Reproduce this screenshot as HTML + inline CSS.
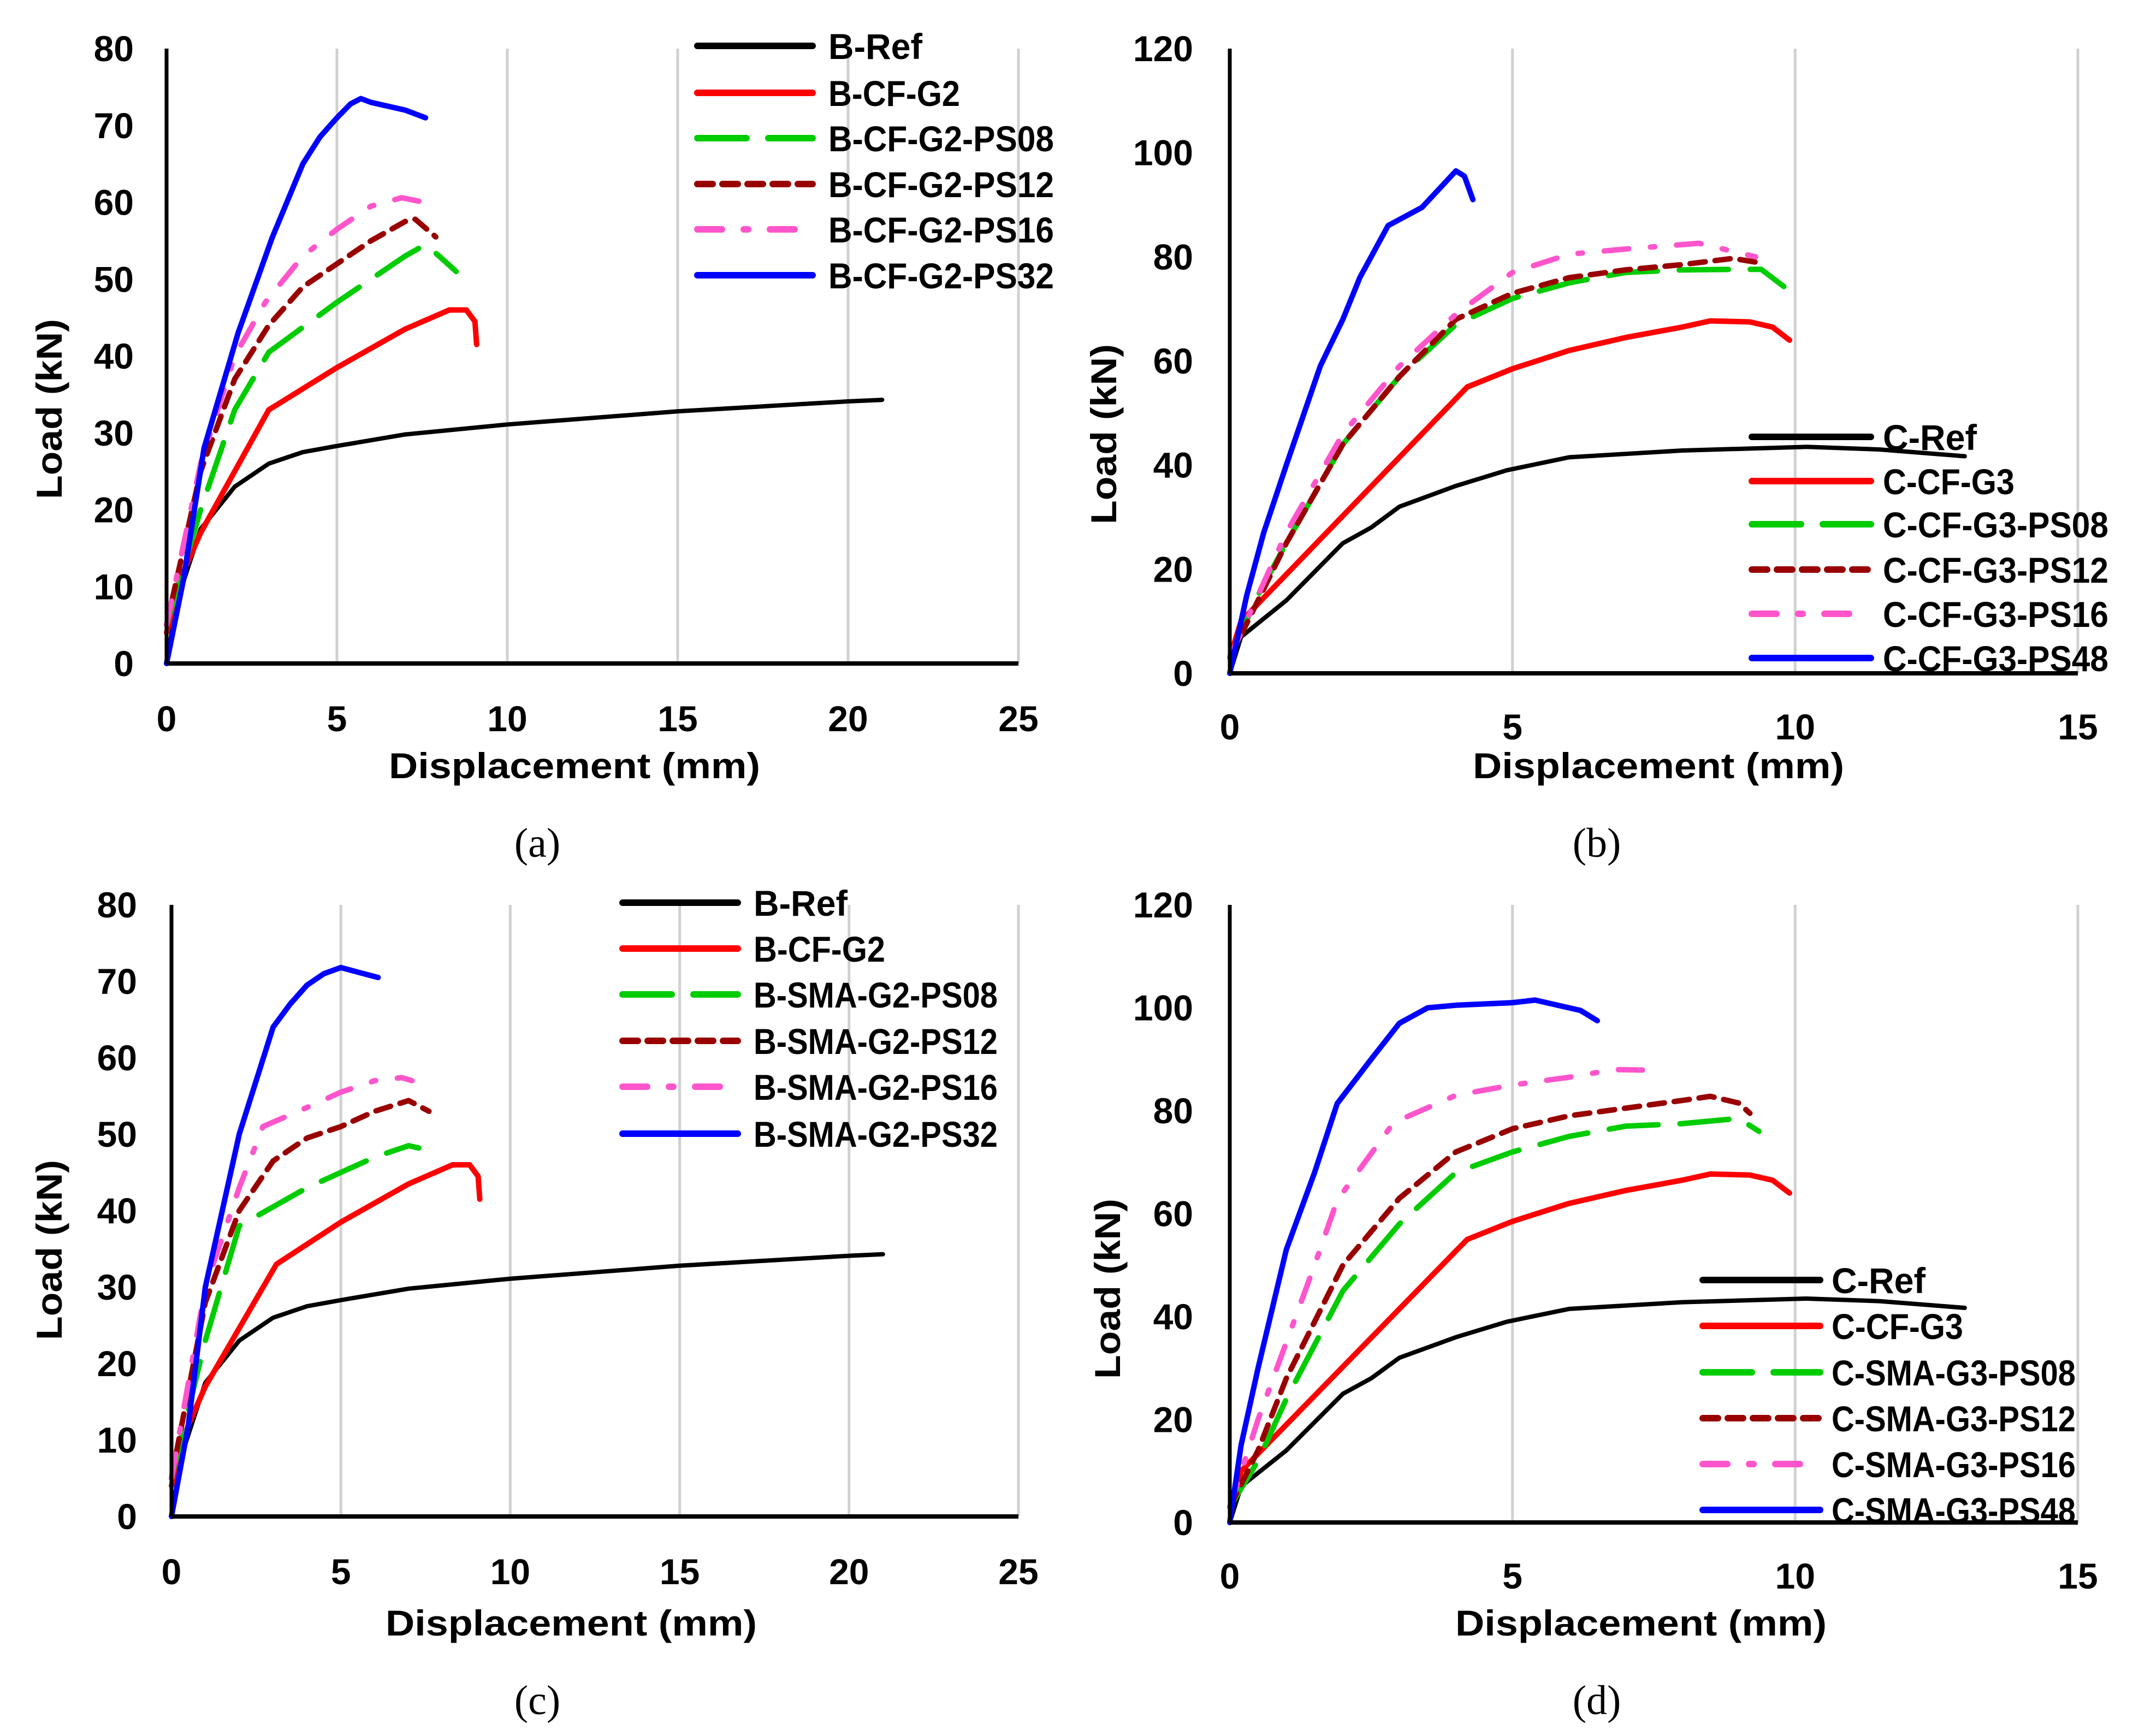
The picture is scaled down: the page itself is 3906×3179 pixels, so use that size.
<!DOCTYPE html>
<html><head><meta charset="utf-8"><style>
html,body{margin:0;padding:0;background:#fff;}
svg{display:block;}
text{font-family:"Liberation Sans",sans-serif;font-weight:bold;fill:#000;}
.cap{font-family:"Liberation Serif",serif;font-weight:normal;}
</style></head><body>
<svg id="fig" width="3906" height="3179" viewBox="0 0 3906 3179" xmlns="http://www.w3.org/2000/svg"></svg>
<script>
// ---------- data (displacement mm, load kN) ----------
// Panel a
const a_ref_x=[0,0.3,1,2,3,4,5,7,10,15,20,21];
const a_ref_y=[0,8,17.5,23,26,27.5,28.3,29.8,31.1,32.8,34.1,34.3];
const a_cf_x=[0,0.5,1,3,5,7,8.3,8.8,9.05,9.1];
const a_cf_y=[4,12,17,33,38.5,43.5,46,46,44.5,41.5];
const a_p08_x=[0,1,2,3,5,7,7.6,8,8.5];
const a_p08_y=[5,20,33,40.5,47,53,54.5,53,51];
const a_p12_x=[0,1,2,3,4,5,6,7,7.3,7.9];
const a_p12_y=[5,25,37,44,49,52,55,57.5,57.8,55.5];
const a_p16_x=[0,1,2,2.9,4,5,6,6.9,7.9];
const a_p16_y=[5,26,40,47,53,56.5,59.5,60.6,59.7];
const a_p32_x=[0,0.5,1.1,2.1,3.1,4,4.5,5,5.4,5.7,6,7,7.6];
const a_p32_y=[0,11,28,43,55.4,65,68.5,71,72.8,73.5,73,72,71];
// Panel b
const b_ref_x=[0,0.2,1,2,2.5,3,4,4.9,6,8,10.2,11.5,13];
const b_ref_y=[0,7,14,25,28,32,36,39,41.5,42.8,43.5,43,41.7];
const b_cf_x=[0,0.2,4.2,5,6,7,8,8.5,9.2,9.6,9.9];
const b_cf_y=[3,10,55,58.5,62,64.5,66.5,67.7,67.5,66.5,64];
const b_p08_x=[0,0.5,1,2,3,4,5,6,7,8,9,9.4,9.8];
const b_p08_y=[3,15,25,44,57,67,72,75,77,77.5,77.6,77.6,74.3];
const b_p12_x=[0,0.5,1,2,3,4,5,6,7,8,8.9,9.3];
const b_p12_y=[3,14,25,44,57,68,73,76,77.5,78.5,79.7,79];
const b_p16_x=[0,1,2,3,4,5,6,7,8.3,9.3];
const b_p16_y=[3,27,46,59,69,77,80.5,81.5,82.6,80];
const b_p48_x=[0,0.3,0.6,1,1.6,2,2.3,2.8,3.4,3.7,4,4.15,4.3];
const b_p48_y=[0,15,27,40,59,68,76,86,89.5,93,96.5,95.5,91];
// Panel c
const c_ref_x=[0,0.3,1,2,3,4,5,7,10,15,20,21];
const c_ref_y=[0,8,17.5,23,26,27.5,28.3,29.8,31.1,32.8,34.1,34.3];
const c_cf_x=[0,0.5,1,3.1,5,7,8.3,8.8,9.05,9.1];
const c_cf_y=[4,12,17,33,38.5,43.5,46,46,44.5,41.5];
const c_p08_x=[0,1,2,3.2,4,5,6,7,7.3];
const c_p08_y=[5,23,38,41,43,45,47,48.5,48.2];
const c_p12_x=[0,1,2,3,4,5,6,7,7.6];
const c_p12_y=[5,28,40,46.5,49.5,51,53,54.4,53];
const c_p16_x=[0,1,2,2.7,4,5,6,6.8,7.1];
const c_p16_y=[5,30,43,51,53.5,55.5,57,57.4,57];
const c_p32_x=[0,0.5,1,2,3,3.5,4,4.5,5,5.5,6.1];
const c_p32_y=[0,12,30,50,64,67,69.5,71,71.8,71.2,70.5];
// Panel d
const d_ref_x=[0,0.2,1,2,2.5,3,4,4.9,6,8,10.2,11.5,13];
const d_ref_y=[0,7,14,25,28,32,36,39,41.5,42.8,43.5,43,41.7];
const d_cf_x=[0,0.2,4.2,5,6,7,8,8.5,9.2,9.6,9.9];
const d_cf_y=[3,10,55,58.5,62,64.5,66.5,67.7,67.5,66.5,64];
const d_p08_x=[0,0.5,1,2,3,4,5,6,7,8,9,9.36];
const d_p08_y=[3,12,24,45,58,68,72,75,77,77.5,78.5,76];
const d_p12_x=[0,0.5,1,2,3,4,5,6,7,8,8.5,9,9.2];
const d_p12_y=[3,14,28,50,63,72,76.5,79,80.5,82,82.8,81.5,79.5];
const d_p16_x=[0,0.5,1,1.5,1.9,2.9,4,5,6,6.8,7.3];
const d_p16_y=[3,20,35,50,62.6,77.7,83,85,86.5,88,87.9];
const d_p48_x=[0,0.2,0.5,1,1.5,1.9,2.5,3,3.5,4,5,5.4,6.2,6.5];
const d_p48_y=[0,15,30,53,68,81.4,90,97,100,100.5,101,101.5,99.5,97.5];

// tick labels
const xTicksB=[0,5,10,15,20,25];
const yTicksB=[0,10,20,30,40,50,60,70,80];
const xTicksC=[0,5,10,15];
const yTicksC=[0,20,40,60,80,100,120];

const legA=["B-Ref","B-CF-G2","B-CF-G2-PS08","B-CF-G2-PS12","B-CF-G2-PS16","B-CF-G2-PS32"];
const legB=["C-Ref","C-CF-G3","C-CF-G3-PS08","C-CF-G3-PS12","C-CF-G3-PS16","C-CF-G3-PS48"];
const legC=["B-Ref","B-CF-G2","B-SMA-G2-PS08","B-SMA-G2-PS12","B-SMA-G2-PS16","B-SMA-G2-PS32"];
const legD=["C-Ref","C-CF-G3","C-SMA-G3-PS08","C-SMA-G3-PS12","C-SMA-G3-PS16","C-SMA-G3-PS48"];

const styles=[
 {c:"#000000",d:""},
 {c:"#ff0000",d:""},
 {c:"#00cc00",d:"90 40"},
 {c:"#990000",d:"28 18"},
 {c:"#ff55cc",d:"45 40 8 40"},
 {c:"#0000ff",d:""}
];
const NS="http://www.w3.org/2000/svg";
const svg=document.getElementById('fig');
function mk(tag,attrs,parent){const e=document.createElementNS(NS,tag);for(const k in attrs)e.setAttribute(k,attrs[k]);(parent||svg).appendChild(e);return e;}

const panels=[
 {id:"a",x0:305,x1:1865,xmax:25,y0:1215,y1:89,ymax:80,xt:xTicksB,yt:yTicksB,leg:legA,
  series:[[a_ref_x,a_ref_y],[a_cf_x,a_cf_y],[a_p08_x,a_p08_y],[a_p12_x,a_p12_y],[a_p16_x,a_p16_y],[a_p32_x,a_p32_y]],
  lx1:1277,lx2:1488,tx:1517,ly:[84,170,253,337,420,504],ylx:245,xly:1316,titx:1052,tity:1402,ylabx:90,ylaby:749,capx:984,capy:1544,cap:"a"},
 {id:"b",x0:2252,x1:3805,xmax:15,y0:1233,y1:89,ymax:120,xt:xTicksC,yt:yTicksC,leg:legB,
  series:[[b_ref_x,b_ref_y],[b_cf_x,b_cf_y],[b_p08_x,b_p08_y],[b_p12_x,b_p12_y],[b_p16_x,b_p16_y],[b_p48_x,b_p48_y]],
  lx1:3208,lx2:3426,tx:3448,ly:[800,881,960,1043,1124,1205],ylx:2185,xly:1331,titx:3037,tity:1402,ylabx:2021,ylaby:795,capx:2924,capy:1544,cap:"b"},
 {id:"c",x0:314,x1:1865,xmax:25,y0:2777,y1:1657,ymax:80,xt:xTicksB,yt:yTicksB,leg:legC,
  series:[[c_ref_x,c_ref_y],[c_cf_x,c_cf_y],[c_p08_x,c_p08_y],[c_p12_x,c_p12_y],[c_p16_x,c_p16_y],[c_p32_x,c_p32_y]],
  lx1:1140,lx2:1351,tx:1380,ly:[1653,1737,1821,1906,1990,2076],ylx:251,xly:2878,titx:1046,tity:2972,ylabx:90,ylaby:2289,capx:984,capy:3114,cap:"c"},
 {id:"d",x0:2252,x1:3805,xmax:15,y0:2788,y1:1657,ymax:120,xt:xTicksC,yt:yTicksC,leg:legD,
  series:[[d_ref_x,d_ref_y],[d_cf_x,d_cf_y],[d_p08_x,d_p08_y],[d_p12_x,d_p12_y],[d_p16_x,d_p16_y],[d_p48_x,d_p48_y]],
  lx1:3118,lx2:3333,tx:3354,ly:[2344,2428,2513,2597,2681,2765],ylx:2185,xly:2886,titx:3005,tity:2972,ylabx:2028,ylaby:2360,capx:2924,capy:3114,cap:"d"}
];

panels.forEach(p=>{
  const g=mk('g',{});
  
  
  const sx=v=>p.x0+(v/p.xmax)*(p.x1-p.x0);
  const sy=v=>p.y0-(v/p.ymax)*(p.y0-p.y1);
  p.xt.forEach(t=>{ if(t===0)return;
    const l=mk('line',{x1:sx(t),x2:sx(t),y1:p.y1,y2:p.y0,stroke:"#d0d0d0","stroke-width":5},g);
    
    
  });
  p.series.forEach((s,i)=>{
    const pts=s[0].map((x,k)=>sx(x).toFixed(1)+","+sy(s[1][k]).toFixed(1)).join(" ");
    const pl=mk('polyline',{points:pts,fill:"none",stroke:styles[i].c,"stroke-width":i===0?8:10,"stroke-linejoin":"round","stroke-linecap":"round"},g);
    if(styles[i].d)pl.setAttribute('stroke-dasharray',styles[i].d);
    
    
  });
  const ya=mk('line',{x1:p.x0,x2:p.x0,y1:p.y1,y2:p.y0,stroke:"#000","stroke-width":7},g);
  
  
  const xa=mk('line',{x1:p.x0,x2:p.x1,y1:p.y0,y2:p.y0,stroke:"#000","stroke-width":8},g);
  
  
  p.yt.forEach(t=>{
    const tx=mk('text',{x:p.ylx,y:sy(t)+23,"text-anchor":"end","font-size":66},g);
    tx.textContent=t;
    
    
  });
  p.xt.forEach(t=>{
    const tx=mk('text',{x:sx(t),y:p.xly+23,"text-anchor":"middle","font-size":66},g);
    tx.textContent=t;
    
    
  });
  const xt=mk('text',{x:p.titx,y:p.tity+23,"text-anchor":"middle","font-size":66,textLength:680,lengthAdjust:"spacingAndGlyphs"},g);
  xt.textContent="Displacement (mm)";
  
  
  const yt=mk('text',{x:0,y:0,"text-anchor":"middle","font-size":66,textLength:330,lengthAdjust:"spacingAndGlyphs",transform:`translate(${p.ylabx+23},${p.ylaby}) rotate(-90)`},g);
  yt.textContent="Load (kN)";
  
  
  p.leg.forEach((name,i)=>{
    const lg=mk('g',{},g);
    
    
    const ln=mk('line',{x1:p.lx1,x2:p.lx2,y1:p.ly[i],y2:p.ly[i],stroke:styles[i].c,"stroke-width":12,"stroke-linecap":"round"},lg);
    if(styles[i].d)ln.setAttribute('stroke-dasharray',styles[i].d);
    const t=mk('text',{x:p.tx,y:p.ly[i]+24,"font-size":66,textLength:Math.round(name.length*34.4),lengthAdjust:"spacingAndGlyphs"},lg);
    t.textContent=name;
  });
  const cp=mk('text',{x:p.capx,y:p.capy+25,"text-anchor":"middle","font-size":76,class:"cap"},g);
  cp.textContent="("+p.cap+")";
  
  
});
</script>
</body></html>
